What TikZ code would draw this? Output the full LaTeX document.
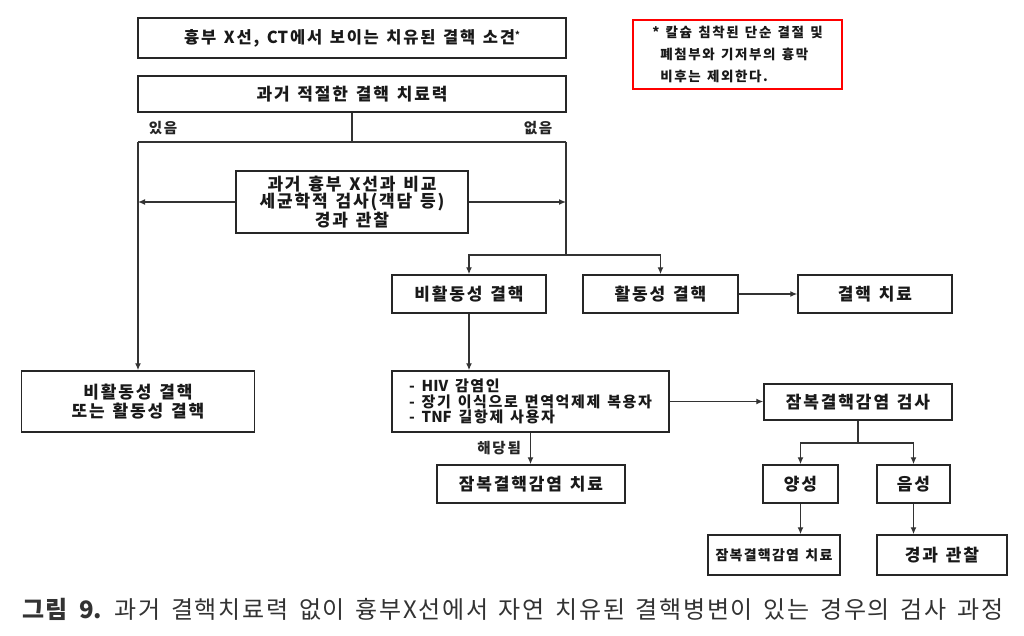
\documentclass[tikz,border=0pt]{standalone}
\usepackage{fontspec}
\usetikzlibrary{arrows.meta}
\newfontfamily\kr[WordSpace=2.6]{Noto Sans CJK KR}
\newfontfamily\krcap[WordSpace=2.0]{Noto Sans CJK KR}
% extra spacing between Hangul syllables
\XeTeXinterchartokenstate=1
\newXeTeXintercharclass\hangulclass
\newcount\hcnt
\hcnt="AC00
\loop
  \XeTeXcharclass\hcnt=\hangulclass
  \ifnum\hcnt<"D7A3 \advance\hcnt by 1
\repeat
\def\hgap{0.11}
\XeTeXinterchartoks\hangulclass\hangulclass={\kern\hgap em\relax}
\XeTeXinterchartoks\hangulclass 0={\kern\hgap em\relax}
\XeTeXinterchartoks 0\hangulclass={\kern\hgap em\relax}
\begin{document}
\begin{tikzpicture}[x=1pt,y=-1pt,
  box/.style={draw=black!85, line width=1.5pt, fill=white, inner sep=0pt,
    font=\kr\bfseries\fontsize{17}{17.5}\selectfont\def\hgap{0.11}, text=black!90},
  conn/.style={draw=black!80, line width=1.3pt},
  arr/.style={conn, -{Latex[length=7pt,width=6pt]}},
  lbl/.style={font=\kr\bfseries\fontsize{14.5}{16}\selectfont\def\hgap{0.12}, text=black!85, inner sep=0pt}]
\useasboundingbox (0,0) rectangle (1024,636);
\fill[white] (0,0) rectangle (1024,636);

% top
\node[box, minimum width=428pt, minimum height=40pt,
  font=\kr\bfseries\fontsize{16.5}{17}\selectfont\def\hgap{0.11}] (b1) at (352,38)
  {흉부 X선, CT에서 보이는 치유된 결핵 소견\raisebox{5pt}{\fontsize{9}{9}\selectfont *}};
\node[box, minimum width=428pt, minimum height=36pt] (b2) at (352,94)
  {과거 적절한 결핵 치료력};
\node[lbl] (yes) at (163,128) {있음};
\node[lbl] (no) at (538,128) {없음};

\node[draw=red, line width=2pt, fill=white, minimum width=209pt, minimum height=69pt,
  inner sep=0pt, align=left, font=\kr\bfseries\fontsize{13.5}{22}\selectfont\def\hgap{0.12}, text=black!90]
  (note) at (737.5,54.5)
  {* 칼슘 침착된 단순 결절 및\\\hspace{8pt}폐첨부와 기저부의 흉막\\\hspace{8pt}비후는 제외한다.};

\coordinate (j1) at (352,142);
\coordinate (jl) at (138,142);
\coordinate (jr) at (566,142);
\coordinate (j2) at (566,255);

\node[box, minimum width=232pt, minimum height=62pt, align=center] (mid) at (352,202)
  {과거 흉부 X선과 비교\\세균학적 검사(객담 등)\\경과 관찰};

\node[box, minimum width=233pt, minimum height=61pt, align=center,
  font=\kr\bfseries\fontsize{17}{19}\selectfont\def\hgap{0.11}] (L) at (138,401.5)
  {비활동성 결핵\\또는 활동성 결핵};

\node[box, minimum width=154pt, minimum height=38pt] (inact) at (469,294) {비활동성 결핵};
\node[box, minimum width=155pt, minimum height=38pt] (act) at (660.5,294) {활동성 결핵};
\node[box, minimum width=154pt, minimum height=38pt] (treat) at (875,294) {결핵 치료};

\node[box, minimum width=277pt, minimum height=61pt, align=left,
  font=\kr\bfseries\fontsize{15}{15.5}\selectfont\def\hgap{0.11}] (hiv) at (530.5,401.5)
  {- HIV 감염인\\- 장기 이식으로 면역억제제 복용자\\- TNF 길항제 사용자};

\node[box, minimum width=188pt, minimum height=36pt] (test) at (858,402) {잠복결핵감염 검사};
\node[box, minimum width=188pt, minimum height=38pt] (t1) at (531,484) {잠복결핵감염 치료};
\node[box, minimum width=75pt, minimum height=38pt] (pos) at (800.5,484) {양성};
\node[box, minimum width=73pt, minimum height=38pt] (neg) at (913.5,484) {음성};
\node[box, minimum width=132pt, minimum height=40pt,
  font=\kr\bfseries\fontsize{14}{16}\selectfont\def\hgap{0.09}] (t2) at (774,555) {잠복결핵감염 치료};
\node[box, minimum width=130pt, minimum height=40pt] (obs) at (942,555) {경과 관찰};

% connectors
\draw[conn] (b2.south) -- (j1);
\draw[conn] (jl) -- (jr);
\draw[arr] (jl) -- (L.north);
\draw[conn] (jr) -- (j2);
\draw[arr] (j2) -| (inact.north);
\draw[arr] (j2) -| (act.north);
\draw[arr] (mid.west) -- (mid.west -| jl);
\draw[arr] (mid.east) -- (mid.east -| jr);
\draw[arr] (act.east) -- (treat.west);
\draw[arr] (inact.south) -- (inact.south |- hiv.north);
\draw[arr] (hiv.east) -- (hiv.east -| test.west);
\draw[arr] (hiv.south) -- node[lbl, left=9pt] (lab) {해당됨} (hiv.south |- t1.north);
\coordinate (j3) at (858,443);
\draw[conn] (test.south) -- (j3);
\draw[arr] (j3) -| (pos.north);
\draw[arr] (j3) -| (neg.north);
\draw[arr] (pos.south) -- (pos.south |- t2.north);
\draw[arr] (neg.south) -- (neg.south |- obs.north);

% caption
\node[anchor=west, inner sep=0pt, text=black!80, font=\krcap\fontsize{24}{26}\selectfont\def\hgap{0.07}]
  (cap) at (22,609)
  {{\bfseries 그림 9.} 과거 결핵치료력 없이 흉부X선에서 자연 치유된 결핵병변이 있는 경우의 검사 과정};
\end{tikzpicture}
\end{document}
